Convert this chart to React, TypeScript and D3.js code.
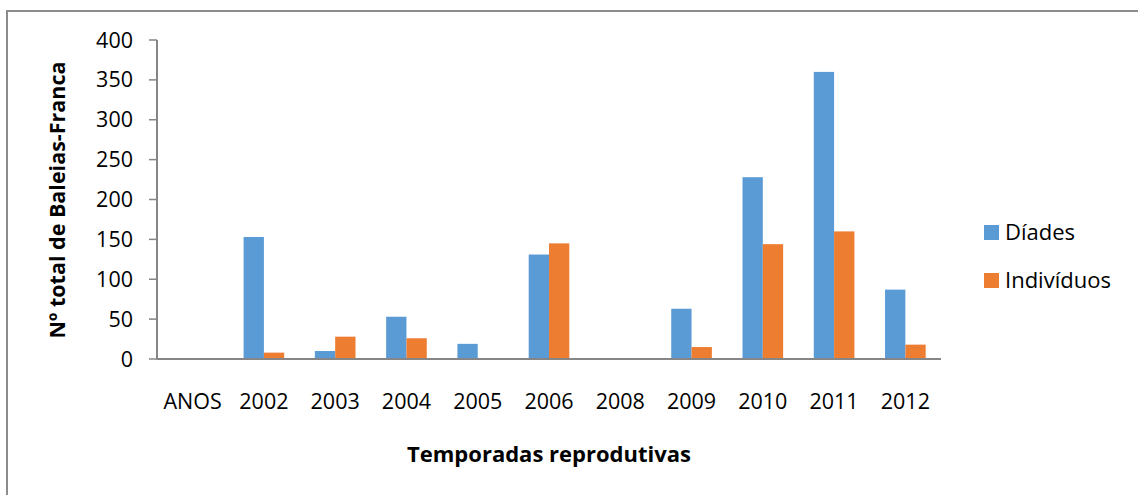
import { scaleBand, scaleLinear } from 'd3';

const categories = ['ANOS', '2002', '2003', '2004', '2005', '2006', '2008', '2009', '2010', '2011', '2012'];
const diades = [0, 153, 10, 53, 19, 131, 0, 63, 228, 360, 87];
const individuos = [0, 8, 28, 26, 0, 145, 0, 15, 144, 160, 18];
const yTicks = [0, 50, 100, 150, 200, 250, 300, 350, 400];

const seriesNames = ['Díades', 'Indivíduos'];
const seriesColors = ['#5B9BD5', '#ED7D31'];

const font = '"Open Sans", "Noto Sans", sans-serif';

export default function App() {
  const width = 1138;
  const height = 495;
  const plot = { left: 157, right: 941, top: 40, bottom: 359 };

  const x = scaleBand<string>().domain(categories).range([plot.left, plot.right]);
  const y = scaleLinear().domain([0, 400]).range([plot.bottom, plot.top]);
  const barW = x.bandwidth() * 0.285;

  const series = [diades, individuos];

  return (
    <div style={{ position: 'fixed', left: 0, top: 0 }}>
      <svg width={width} height={height} style={{ display: 'block', background: '#fff' }}>
        <rect x={7} y={11} width={1140} height={500} fill="#fff" stroke="#8c8c8c" strokeWidth={2} />

        {/* bars */}
        {categories.map((cat, i) => {
          const cx = (x(cat) || 0) + x.bandwidth() / 2;
          return (
            <g key={cat}>
              {series.map((vals, s) =>
                vals[i] > 0 ? (
                  <rect
                    key={s}
                    x={cx - barW + s * barW}
                    y={y(vals[i])}
                    width={barW}
                    height={plot.bottom - y(vals[i])}
                    fill={seriesColors[s]}
                  />
                ) : null
              )}
            </g>
          );
        })}

        {/* y axis */}
        <line x1={plot.left} x2={plot.left} y1={plot.top} y2={plot.bottom} stroke="#868686" strokeWidth={2} />
        {yTicks.map((t) => (
          <g key={t}>
            <line x1={plot.left - 8} x2={plot.left} y1={y(t)} y2={y(t)} stroke="#868686" strokeWidth={1.5} />
            <text
              x={133}
              y={y(t)}
              dy="0.35em"
              textAnchor="end"
              fontFamily={font}
              fontSize={21.5}
              fill="#000"
            >
              {t}
            </text>
          </g>
        ))}

        {/* x axis */}
        <line x1={plot.left} x2={plot.right} y1={plot.bottom} y2={plot.bottom} stroke="#868686" strokeWidth={2} />
        {categories.map((cat) => (
          <text
            key={cat}
            x={(x(cat) || 0) + x.bandwidth() / 2}
            y={409}
            textAnchor="middle"
            fontFamily={font}
            fontSize={21.5}
            fill="#000"
          >
            {cat}
          </text>
        ))}

        <text
          x={(plot.left + plot.right) / 2}
          y={462}
          textAnchor="middle"
          fontFamily={font}
          fontWeight="bold"
          fontSize={22}
          fill="#000"
        >
          Temporadas reprodutivas
        </text>

        <text
          transform={`translate(65, 200) rotate(-90)`}
          textAnchor="middle"
          fontFamily={font}
          fontWeight="bold"
          fontSize={21.5}
          fill="#000"
        >
          Nº total de Baleias-Franca
        </text>

        {/* legend */}
        {seriesNames.map((name, s) => (
          <g key={name} transform={`translate(984, ${225 + s * 48})`}>
            <rect width={15} height={15} fill={seriesColors[s]} />
            <text x={21} y={15} fontFamily={font} fontSize={22} fill="#000">
              {name}
            </text>
          </g>
        ))}
      </svg>
    </div>
  );
}
